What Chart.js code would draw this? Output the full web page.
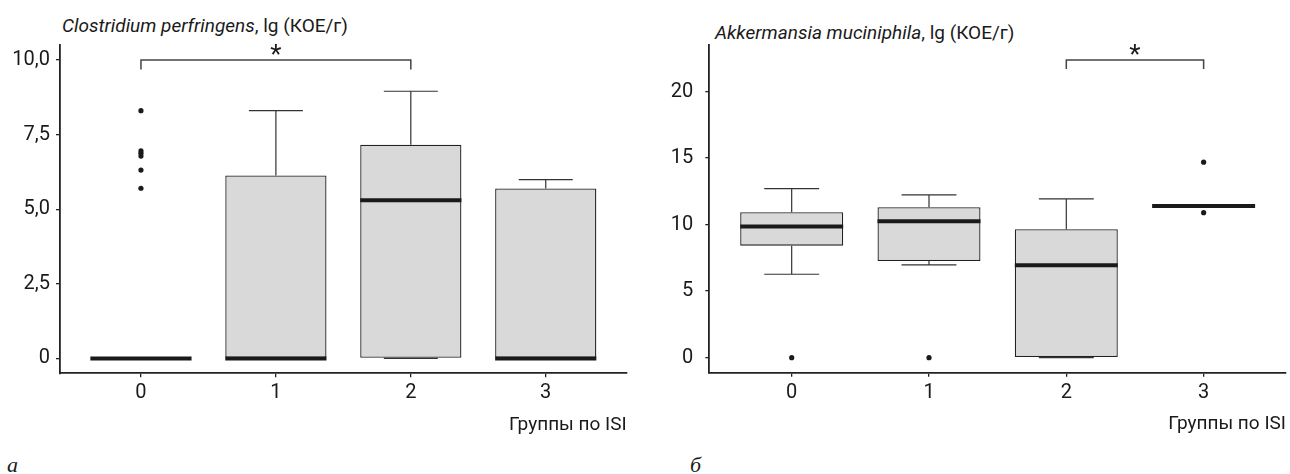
<!DOCTYPE html>
<html>
<head>
<meta charset="utf-8">
<script src="https://cdn.jsdelivr.net/npm/chart.js@4.4.1/dist/chart.umd.min.js"></script>
<style>
  body { margin: 0; background: #fff; width: 1290px; height: 474px; overflow: hidden; position: relative; }
  canvas { position: absolute; top: 0; }
  #c1 { left: 0; }
  #c2 { left: 640px; }
  .ttl { position: absolute; font-family: 'Liberation Sans Narrow', 'Roboto', sans-serif; font-size: 19px; line-height: 19px; color: #1a1a1a; white-space: nowrap; }
  .pl { position: absolute; font-family: 'Liberation Serif', 'DejaVu Serif', serif; font-style: italic; font-size: 22px; line-height: 22px; color: #1a1a1a; }
</style>
</head>
<body>
<div class="ttl" style="left:62px;top:16px"><i>Clostridium perfringens</i>, lg (КОЕ/г)</div>
<div class="ttl" style="left:715px;top:23px"><i>Akkermansia muciniphila</i>, lg (КОЕ/г)</div>
<div class="pl" style="left:7px;top:454px">а</div>
<div class="pl" style="left:690px;top:454px">б</div>
<canvas id="c1" width="640" height="474"></canvas>
<canvas id="c2" width="650" height="474"></canvas>
<script>
// группы по ISI
var groups = [0, 1, 2, 3];
var xTitle = 'Группы по ISI';

// Clostridium perfringens
var cpLow  = [0, 0, 0, 0];
var cpQ1   = [0, 0, 0, 0];
var cpMed  = [0, 0, 5.3, 0];
var cpQ3   = [0, 6.13, 7.16, 5.69];
var cpHigh = [0, 8.3, 8.95, 5.99];
var cpOutX = [0, 0, 0, 0, 0, 0];
var cpOutY = [8.3, 6.95, 6.87, 6.78, 6.31, 5.7];
var cpTicks = [0, 2.5, 5, 7.5, 10];
var cpTickLabels = ['0', '2,5', '5,0', '7,5', '10,0'];
var cpSig = [0, 2, 10.0, 9.68]; // от, до, уровень, низ скобки

// Akkermansia muciniphila
var amLow  = [6.27, 6.97, 0, 11.4];
var amQ1   = [8.42, 7.27, 0, 11.4];
var amMed  = [9.85, 10.26, 6.95, 11.4];
var amQ3   = [10.93, 11.31, 9.65, 11.4];
var amHigh = [12.7, 12.23, 11.93, 11.4];
var amOutX = [0, 1, 3, 3];
var amOutY = [0, 0, 14.69, 10.9];
var amTicks = [0, 5, 10, 15, 20];
var amTickLabels = ['0', '5', '10', '15', '20'];
var amSig = [2, 3, 22.38, 21.7];

var fontFam = "'Liberation Sans Narrow', 'Roboto', sans-serif";
var ink = '#1a1a1a';

//Desenha bigodes, medianas e a marca de significância
var boxParts = {
  id: 'boxParts',
  beforeDatasetsDraw: function(chart) {
    var b = chart.options.plugins.boxParts;
    var xs = chart.scales.x, ys = chart.scales.y, ctx = chart.ctx;
    ctx.save();
    ctx.strokeStyle = '#333';
    ctx.lineWidth = 1.2;
    for (var i = 0; i < groups.length; i++) {
      var x = xs.getPixelForValue(groups[i]);
      var xl = xs.getPixelForValue(groups[i] - 0.2), xr = xs.getPixelForValue(groups[i] + 0.2);
      ctx.beginPath();
      ctx.moveTo(x, ys.getPixelForValue(b.q3[i])); ctx.lineTo(x, ys.getPixelForValue(b.high[i]));
      ctx.moveTo(xl, ys.getPixelForValue(b.high[i])); ctx.lineTo(xr, ys.getPixelForValue(b.high[i]));
      ctx.moveTo(x, ys.getPixelForValue(b.q1[i])); ctx.lineTo(x, ys.getPixelForValue(b.low[i]));
      ctx.moveTo(xl, ys.getPixelForValue(b.low[i])); ctx.lineTo(xr, ys.getPixelForValue(b.low[i]));
      ctx.stroke();
    }
    ctx.restore();
  },
  afterDatasetsDraw: function(chart) {
    var b = chart.options.plugins.boxParts;
    var xs = chart.scales.x, ys = chart.scales.y, ctx = chart.ctx;
    ctx.save();
    ctx.strokeStyle = ink;
    ctx.lineWidth = 4;
    for (var i = 0; i < groups.length; i++) {
      var y = ys.getPixelForValue(b.med[i]);
      ctx.beginPath();
      ctx.moveTo(xs.getPixelForValue(groups[i] - 0.375), y);
      ctx.lineTo(xs.getPixelForValue(groups[i] + 0.375), y);
      ctx.stroke();
    }
    // скобка
    var s = b.sig;
    var x1 = xs.getPixelForValue(s[0]), x2 = xs.getPixelForValue(s[1]);
    var yTop = ys.getPixelForValue(s[2]), yBot = ys.getPixelForValue(s[3]);
    ctx.strokeStyle = '#444';
    ctx.lineWidth = 1.5;
    ctx.beginPath();
    ctx.moveTo(x1, yBot); ctx.lineTo(x1, yTop); ctx.lineTo(x2, yTop); ctx.lineTo(x2, yBot);
    ctx.stroke();
    ctx.fillStyle = ink;
    ctx.font = '26px ' + fontFam;
    ctx.textAlign = 'center';
    ctx.textBaseline = 'alphabetic';
    ctx.fillText('*', (x1 + x2) / 2, yTop + 3);
    ctx.restore();
  }
};

function makeChart(id, d) {
  var boxes = groups.map(function(g, i) { return { x: g, y: [d.q1[i], d.q3[i]] }; });
  var outs = d.outX.map(function(v, i) { return { x: v, y: d.outY[i] }; });
  var tickFont = { family: fontFam, size: 20 };
  return new Chart(document.getElementById(id), {
    type: 'bar',
    data: {
      datasets: [
        { type: 'bar', data: boxes, backgroundColor: '#d9d9d9', borderColor: '#222', borderWidth: 1.3,
          borderSkipped: false, categoryPercentage: 1, barPercentage: 0.75 },
        { type: 'scatter', data: outs, pointRadius: 2.6, pointBackgroundColor: ink, pointBorderWidth: 0 }
      ]
    },
    options: {
      responsive: false,
      animation: false,
      layout: { padding: d.pad },
      plugins: {
        legend: { display: false },
        tooltip: { enabled: false },
        boxParts: { low: d.low, q1: d.q1, med: d.med, q3: d.q3, high: d.high, sig: d.sig }
      },
      scales: {
        x: {
          type: 'linear', min: -0.6, max: 3.6, offset: false,
          afterBuildTicks: function(s) { s.ticks = groups.map(function(v) { return { value: v }; }); },
          afterFit: function(s) { s.height = 67; },
          ticks: { font: tickFont, color: ink, padding: 4, callback: function(v) { return String(v); } },
          grid: { offset: false, drawOnChartArea: false, drawTicks: true, tickLength: 4, color: '#222', lineWidth: 1.3 },
          border: { display: true, color: '#222', width: 1.8 },
          title: { display: true, text: xTitle, align: 'end', color: ink, font: { family: fontFam, size: 19 }, padding: { top: 4, bottom: 4 } }
        },
        y: {
          min: d.yMin, max: d.yMax,
          afterBuildTicks: function(s) { s.ticks = d.ticks.map(function(v) { return { value: v }; }); },
          afterFit: function(s) { s.width = d.yWidth; },
          ticks: { font: tickFont, color: ink, padding: d.yPad, callback: function(v, i) { return d.tickLabels[i]; } },
          grid: { drawOnChartArea: false, drawTicks: true, tickLength: 4, color: '#222', lineWidth: 1.3 },
          border: { display: true, color: '#222', width: 1.8 }
        }
      }
    },
    plugins: [boxParts]
  });
}

makeChart('c1', {
  low: cpLow, q1: cpQ1, med: cpMed, q3: cpQ3, high: cpHigh, outX: cpOutX, outY: cpOutY,
  ticks: cpTicks, tickLabels: cpTickLabels, sig: cpSig,
  yMin: -0.5, yMax: 10.5, yWidth: 60, yPad: 6,
  pad: { left: 0, right: 13.3, top: 45, bottom: 33.7 }
});
makeChart('c2', {
  low: amLow, q1: amQ1, med: amMed, q3: amQ3, high: amHigh, outX: amOutX, outY: amOutY,
  ticks: amTicks, tickLabels: amTickLabels, sig: amSig,
  yMin: -1.13, yMax: 23.5, yWidth: 69.3, yPad: 12,
  pad: { left: 0, right: 1.6, top: 45, bottom: 34.3 }
});
</script>
</body>
</html>
